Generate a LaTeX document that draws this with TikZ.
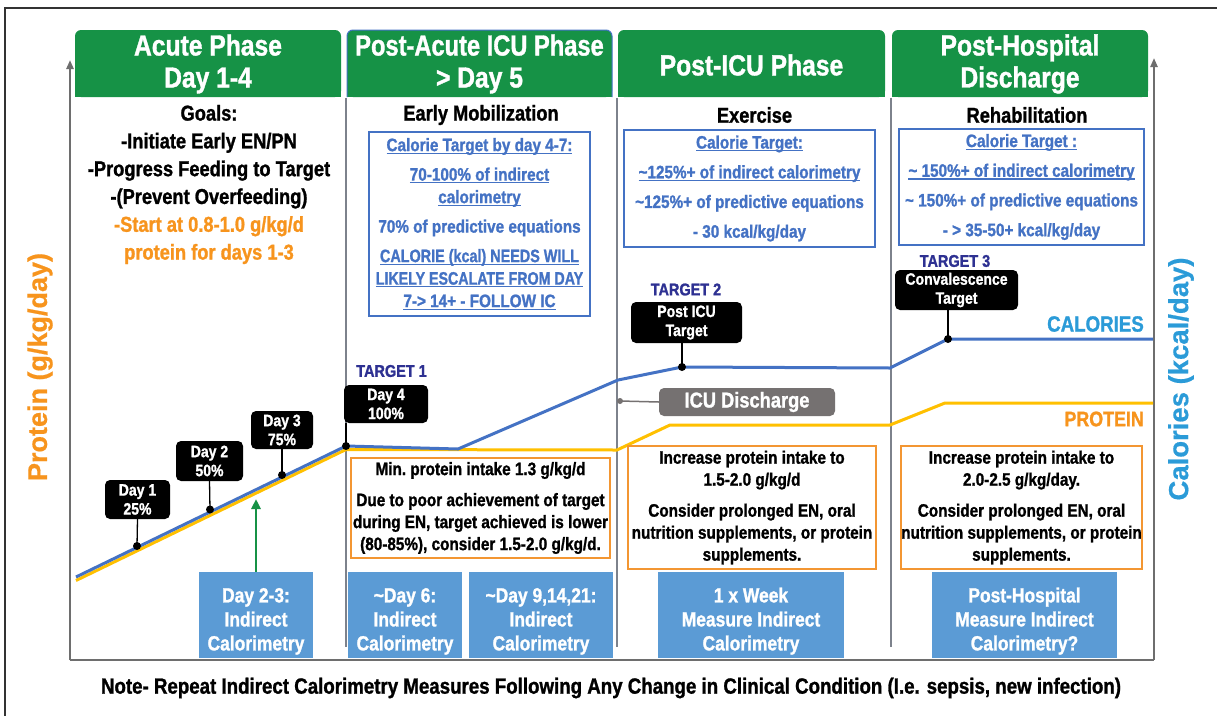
\documentclass[tikz,border=0pt]{standalone}
\usepackage{fontspec}
\setmainfont{Liberation Sans}[FakeStretch=0.85, BoldFeatures={FakeBold=1.2}]
\newfontfamily\widefont{Liberation Sans}[BoldFeatures={FakeBold=0.6}]
\newsavebox{\myulbox}
\newcommand{\ulx}[1]{\sbox{\myulbox}{#1}\rlap{\rule[-2.8pt]{\wd\myulbox}{1.1pt}}\usebox{\myulbox}}
\usetikzlibrary{arrows.meta}
\definecolor{hdr}{RGB}{22,146,70}
\definecolor{calblue}{RGB}{68,114,196}
\definecolor{protyel}{RGB}{255,192,0}
\definecolor{orng}{RGB}{247,148,29}
\definecolor{obox}{RGB}{243,150,50}
\definecolor{icblue}{RGB}{91,155,213}
\definecolor{navy}{RGB}{46,49,146}
\definecolor{lblue}{RGB}{43,155,216}
\definecolor{axgray}{RGB}{110,110,110}
\definecolor{divgray}{RGB}{125,130,140}
\definecolor{icugray}{RGB}{117,113,113}
\tikzset{
  hdrtext/.style={text=white, font=\bfseries\fontsize{29}{32}\selectfont, align=center, inner sep=0},
  subtitle/.style={font=\bfseries\fontsize{21.5}{27.8}\selectfont, align=center, inner sep=0},
  calbox/.style={draw=calblue, line width=1.5, text=calblue, font=\bfseries\fontsize{18}{22.5}\selectfont, align=center, inner sep=0},
  probox/.style={draw=obox, line width=1.8, font=\bfseries\fontsize{18}{22}\selectfont, align=center, inner sep=0},
  icbox/.style={fill=icblue, text=white, font=\bfseries\fontsize{20.5}{24}\selectfont, align=center, inner sep=0, minimum height=86},
  blklabel/.style={fill=black, rounded corners=5, text=white, font=\bfseries\fontsize{16.5}{19}\selectfont, align=center, inner sep=0},
  tgt/.style={text=navy, font=\bfseries\fontsize{17}{17}\selectfont, inner sep=0},
  dotmark/.style={circle, fill=black, inner sep=0, minimum size=8},
  divider/.style={draw=divgray, line width=1.2},
  axisline/.style={draw=axgray, line width=2.2},
  calline/.style={draw=calblue, line width=3, line join=round},
  protline/.style={draw=protyel, line width=3, line join=round},
}
\newcommand{\icstrut}{\rule{0pt}{27pt}}
\begin{document}
\begin{tikzpicture}[x=1pt,y=-1pt]
\useasboundingbox (0,0) rectangle (1217,715);
\fill[white] (0,0) rectangle (1217,715);
% outer frame
\draw[draw=black!80, line width=1.5] (5,8) rectangle (1225,725);

% headers
\fill[hdr, rounded corners=6] (75,30) rectangle (341,97);
\fill[hdr] (75,60) rectangle (341,97);
\fill[hdr, rounded corners=6] (347,30) rectangle (612,97);
\fill[hdr] (347,60) rectangle (612,97);
\draw[calblue, line width=1, rounded corners=6] (347,97) -- (347,30) -- (612,30) -- (612,97);
\fill[hdr, rounded corners=6] (618,30) rectangle (885,97);
\fill[hdr] (618,60) rectangle (885,97);
\fill[hdr, rounded corners=6] (892,30) rectangle (1148,97);
\fill[hdr] (892,60) rectangle (1148,97);
\node[hdrtext] (h1) at (208,64) {Acute Phase\\Day 1-4};
\node[hdrtext] (h2) at (479.5,64) {\scalebox{0.96}[1]{Post-Acute ICU Phase}\\> Day 5};
\node[hdrtext] (h3) at (751.5,65) {Post-ICU Phase};
\node[hdrtext] (h4) at (1020,64) {Post-Hospital\\Discharge};

% dividers
\draw[divider] (346,98) -- (346,647);
\draw[divider] (617,98) -- (617,647);
\draw[divider] (891,98) -- (891,647);

% axes
\coordinate (o) at (70,660);
\coordinate (ltop) at (70,60);
\coordinate (r0) at (1154,660);
\coordinate (rtop) at (1154,58);
\draw[axisline, -{Triangle[length=9,width=7]}] (o) -- (ltop);
\draw[axisline, -{Triangle[length=9,width=7]}] (r0) -- (rtop);
\draw[axisline] (o) -- (r0);
\node[rotate=90, text=orng, font=\widefont\bfseries\fontsize{27}{27}\selectfont, inner sep=0] (ylab) at (40,367) {Protein (g/kg/day)};
\node[rotate=90, text=lblue, font=\widefont\bfseries\fontsize{27.5}{27.5}\selectfont, inner sep=0] (y2lab) at (1181,379) {Calories (kcal/day)};

% column 1 text
\node[subtitle] (goals) at (209,184.5) {Goals:\\-Initiate Early EN/PN\\-Progress Feeding to Target\\-(Prevent Overfeeding)\\\textcolor{orng}{-Start at 0.8-1.0 g/kg/d}\\\textcolor{orng}{protein for days 1-3}};

% subtitles
\node[subtitle] (s2) at (481,115) {Early Mobilization};
\node[subtitle] (s3) at (754.5,115) {Exercise};
\node[subtitle] (s4) at (1027,115) {Rehabilitation};

% calorie boxes
\node[calbox, minimum width=221, minimum height=184] (c2) at (479.5,224) {\ulx{Calorie Target by day 4-7:}\\[7pt]\ulx{70-100\% of indirect}\\\ulx{calorimetry}\\[7pt]70\% of predictive equations\\[7pt]\ulx{\scalebox{0.94}[1]{CALORIE (kcal) NEEDS WILL}}\\\ulx{\scalebox{0.93}[1]{LIKELY ESCALATE FROM DAY}}\\\ulx{7-> 14+ - FOLLOW IC}};
\node[calbox, minimum width=251, minimum height=117, font=\bfseries\fontsize{18}{29.7}\selectfont] (c3) at (749.5,188.5) {\ulx{Calorie Target:}\\\ulx{\textasciitilde125\%+ of indirect calorimetry}\\\textasciitilde125\%+ of predictive equations\\- 30 kcal/kg/day};
\node[calbox, minimum width=245, minimum height=116, font=\bfseries\fontsize{18}{29.7}\selectfont] (c4) at (1021.5,187) {\ulx{Calorie Target :}\\\ulx{\textasciitilde{} 150\%+ of indirect calorimetry}\\\textasciitilde{} 150\%+ of predictive equations\\- > 35-50+ kcal/kg/day};

% curve points
\coordinate (p0) at (76,580.5);
\coordinate (p1) at (346,449.5);
\coordinate (p2) at (617,450);
\coordinate (p3) at (670,425);
\coordinate (p4) at (890,425);
\coordinate (p5) at (945,403);
\coordinate (p6) at (1153,403);
\draw[protline] (p0) -- (p1) -- (p2) -- (p3) -- (p4) -- (p5) -- (p6);

\coordinate (k0) at (76,577);
\coordinate (d4) at (346,446);
\coordinate (k2) at (458,449);
\coordinate (k3) at (618,380);
\coordinate (d5) at (682,367);
\coordinate (k5) at (890,368);
\coordinate (d6) at (948,339);
\coordinate (k7) at (1153,339);
\draw[calline] (k0) -- (d4) -- (k2) -- (k3) -- (d5) -- (k5) -- (d6) -- (k7);

\coordinate (d1) at (137,546);
\coordinate (d2) at (210,509.5);
\coordinate (d3) at (282,475);
\coordinate (arrtip) at (256,499);

% labels
\node[blklabel, minimum width=65, minimum height=39] (l1) at (137.5,499.5) {Day 1\\25\%};
\node[blklabel, minimum width=67, minimum height=40] (l2) at (209.5,461) {Day 2\\50\%};
\node[blklabel, minimum width=62, minimum height=38] (l3) at (282,430) {Day 3\\75\%};
\node[blklabel, minimum width=84, minimum height=38] (l4) at (386,404) {Day 4\\100\%};
\node[blklabel, minimum width=111, minimum height=41] (l5) at (686.5,322.5) {Post ICU\\Target};
\node[blklabel, minimum width=123, minimum height=40] (l6) at (956.5,290) {Convalescence\\Target};
\draw[line width=1.3] (l1.south) -- (d1);
\draw[line width=1.3] (l2.south) -- (d2);
\draw[line width=1.3] (l3.south) -- (d3);
\draw[line width=1.3] (d4) -- (d4 |- l4.south);
\draw[line width=1.3] (d5) -- (d5 |- l5.south);
\draw[line width=1.3] (d6) -- (d6 |- l6.south);
\foreach \d in {d1,d2,d3,d4,d5,d6} \node[dotmark] at (\d) {};

\node[tgt] (t1) at (391.5,371) {TARGET 1};
\node[tgt] (t2) at (686,289.5) {TARGET 2};
\node[tgt] (t3) at (955,261) {TARGET 3};

% ICU discharge
\node[fill=icugray, rounded corners=5, text=white, font=\bfseries\fontsize{21.5}{21.5}\selectfont, minimum width=176, minimum height=28, inner sep=0] (icu) at (747,402) {ICU Discharge};
\coordinate (icudot) at (620,401);
\draw[icugray, line width=1.5] (icudot) -- (icu.west);
\node[circle, fill=icugray, inner sep=0, minimum size=6] (icud) at (icudot) {};

\node[text=lblue, font=\bfseries\fontsize{22}{22}\selectfont, anchor=east, inner sep=0] (callab) at (1144,324) {CALORIES};
\node[text=orng, font=\bfseries\fontsize{21}{21}\selectfont, anchor=east, inner sep=0] (protlab) at (1144,419) {PROTEIN};

% protein boxes
\node[probox, minimum width=259, minimum height=100] (o2) at (480.5,508) {Min.\ protein intake 1.3 g/kg/d\\[9pt]Due to poor achievement of target\\during EN, target achieved is lower\\(80-85\%), consider 1.5-2.0 g/kg/d.};
\node[probox, minimum width=248, minimum height=123] (o3) at (752,507.5) {Increase protein intake to\\1.5-2.0 g/kg/d\\[9pt]Consider prolonged EN, oral\\nutrition supplements, or protein\\supplements.};
\node[probox, minimum width=241, minimum height=123] (o4) at (1021.5,507.5) {Increase protein intake to\\2.0-2.5 g/kg/day.\\[9pt]Consider prolonged EN, oral\\nutrition supplements, or protein\\supplements.};

% indirect calorimetry boxes
\node[icbox, minimum width=114] (b1) at (256,615) {\icstrut Day 2-3:\\Indirect\\Calorimetry};
\node[icbox, minimum width=114] (b2) at (405,615) {\icstrut\textasciitilde Day 6:\\Indirect\\Calorimetry};
\node[icbox, minimum width=144] (b3) at (541,615) {\icstrut\textasciitilde Day 9,14,21:\\Indirect\\Calorimetry};
\node[icbox, minimum width=186] (b4) at (751,615) {\icstrut 1 x Week\\Measure Indirect\\Calorimetry};
\node[icbox, minimum width=185] (b5) at (1024.5,615) {\icstrut Post-Hospital\\Measure Indirect\\Calorimetry?};
\draw[draw=hdr, line width=2.8, -{Triangle[length=10,width=9]}] (b1.north) -- (arrtip);

% note
\node[font=\bfseries\fontsize{22}{22}\selectfont, inner sep=0] (note) at (611,688) {Note- Repeat Indirect Calorimetry Measures Following Any Change in Clinical Condition (I.e. sepsis, new infection)};
\end{tikzpicture}
\end{document}
